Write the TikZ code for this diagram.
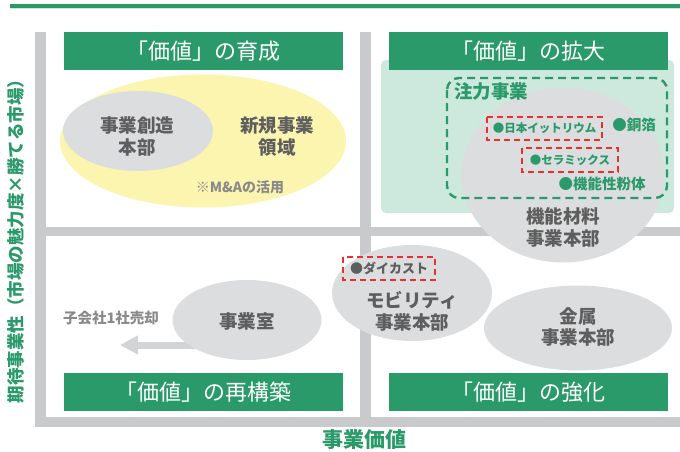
\documentclass[tikz,border=0pt]{standalone}
\usepackage{fontspec}
\usetikzlibrary{shapes.geometric,arrows.meta}
\newfontfamily\jp{Noto Sans CJK JP}
\definecolor{cgreen}{HTML}{2A9A6A}
\definecolor{cpanel}{HTML}{CDE8DC}
\definecolor{cbar}{HTML}{C9CACB}
\definecolor{cell}{HTML}{DCDDDF}
\definecolor{ctext}{HTML}{5F5E5E}
\definecolor{clight}{HTML}{8A8A8A}
\definecolor{cyellow}{HTML}{FBF5B0}
\definecolor{cred}{HTML}{E8302E}
\definecolor{carrow}{HTML}{D3D4D5}
\tikzset{
  bar/.style={fill=cbar, draw=none},
  header/.style={fill=cgreen, draw=none, text=white, minimum width=279pt, minimum height=38pt, inner sep=0pt, font=\jp\fontsize{22}{24}\selectfont},
  blob/.style={ellipse, fill=cell, draw=none, inner sep=0pt},
  gtext/.style={text=ctext, align=center, font=\jp\bfseries\fontsize{18.5}{22}\selectfont, inner sep=0pt},
  greentext/.style={text=cgreen, font=\jp\bfseries\fontsize{14.5}{16}\selectfont, inner sep=0pt},
  smallgreen/.style={text=cgreen, font=\jp\bfseries\fontsize{11.5}{13}\selectfont, inner sep=0pt},
  redbox/.style={draw=cred, line width=2.4pt, dash pattern=on 6pt off 4pt, fill=none},
  lighttext/.style={text=clight, font=\jp\bfseries\fontsize{14}{16}\selectfont, inner sep=0pt},
}
\begin{document}
\begin{tikzpicture}[x=1pt,y=-1pt]
\useasboundingbox (0,0) rectangle (680,452);
% top rule
\fill[cgreen] (10,4) rectangle (680,8);
\fill[cpanel] (10,8) rectangle (680,9.5);
% bars
\fill[bar] (35,32) rectangle (46,427);
\fill[bar] (35,417) rectangle (680,427);
\fill[bar] (46,227) rectangle (680,236);
\fill[bar] (360,32) rectangle (371,417);
% panel
\fill[cpanel, rounded corners=5pt] (381,60) rectangle (674,213);
% headers
\node[header] (h1) at (203.5,51) {「価値」の育成};
\node[header] (h2) at (528,51) {「価値」の拡大};
\node[header] (h3) at (203.5,392) {「価値」の再構築};
\node[header] (h4) at (528,392) {「価値」の強化};
% yellow area
\node[ellipse, fill=cyellow, minimum width=286pt, minimum height=133pt, inner sep=0pt] (yel) at (203,141) {};
\node[blob, minimum width=150pt, minimum height=80pt] (sozo) at (138,131) {};
\node[gtext] (sozot) at (137,136) {事業創造\\本部};
\node[gtext] (shinki) at (277,136) {新規事業\\領域};
\node[lighttext] (ma) at (240,187) {※M\&Aの活用};
% functional materials
\node[blob, minimum width=203pt, minimum height=175pt] (kino) at (563,175) {};
\draw[cgreen, line width=2.4pt, dash pattern=on 8pt off 5pt, rounded corners=12pt] (447,78) rectangle (667,198);
\node[text=cgreen, font=\jp\bfseries\fontsize{18.5}{20}\selectfont, inner sep=0pt, anchor=west] (chuu) at (454,92) {注力事業};
\draw[redbox] (487,117) rectangle (602,140);
\node[smallgreen] (yttr) at (544.5,128.5) {●日本イットリウム};
\draw[redbox] (522,148) rectangle (618,172);
\node[smallgreen] (cera) at (570,160) {●セラミックス};
\node[greentext] (doh) at (634,125) {●銅箔};
\node[greentext] (funtai) at (602,184) {●機能性粉体};
\node[gtext] (kinot) at (563,227) {機能材料\\事業本部};
% mobility
\node[blob, minimum width=160pt, minimum height=96pt] (mob) at (412,293) {};
\draw[redbox] (343,257) rectangle (435,280);
\node[text=ctext, font=\jp\bfseries\fontsize{13}{15}\selectfont, inner sep=0pt] (die) at (389,268.5) {●ダイカスト};
\node[gtext] (mobt) at (412,311) {モビリティ\\事業本部};
% metals
\node[blob, minimum width=188pt, minimum height=85pt] (kin) at (578,328) {};
\node[gtext, font=\jp\bfseries\fontsize{18.5}{20.5}\selectfont] (kint) at (578,327) {金属\\事業本部};
% jigyoshitsu
\coordinate (arrstart) at (205,345);
\coordinate (arrtip) at (120,345);
\draw[carrow, line width=7pt, -{Triangle[width=18pt,length=18pt]}] (arrstart) -- (arrtip);
\node[blob, minimum width=149pt, minimum height=80pt] (shitsu) at (247,320) {};
\node[gtext] (shitsut) at (247,321) {事業室};
\node[lighttext, font=\jp\bfseries\fontsize{14.5}{16}\selectfont] (baikyaku) at (111,318) {子会社1社売却};
% axis labels
\node[text=cgreen, font=\jp\bfseries\fontsize{21}{23}\selectfont, inner sep=0pt] (xlab) at (364,440) {事業価値};
\node[text=cgreen, font=\jp\bfseries\fontsize{17.5}{19}\selectfont, inner sep=0pt, rotate=90] (ylab) at (16,237) {期待事業性（市場の魅力度×勝てる市場）};
\end{tikzpicture}
\end{document}
